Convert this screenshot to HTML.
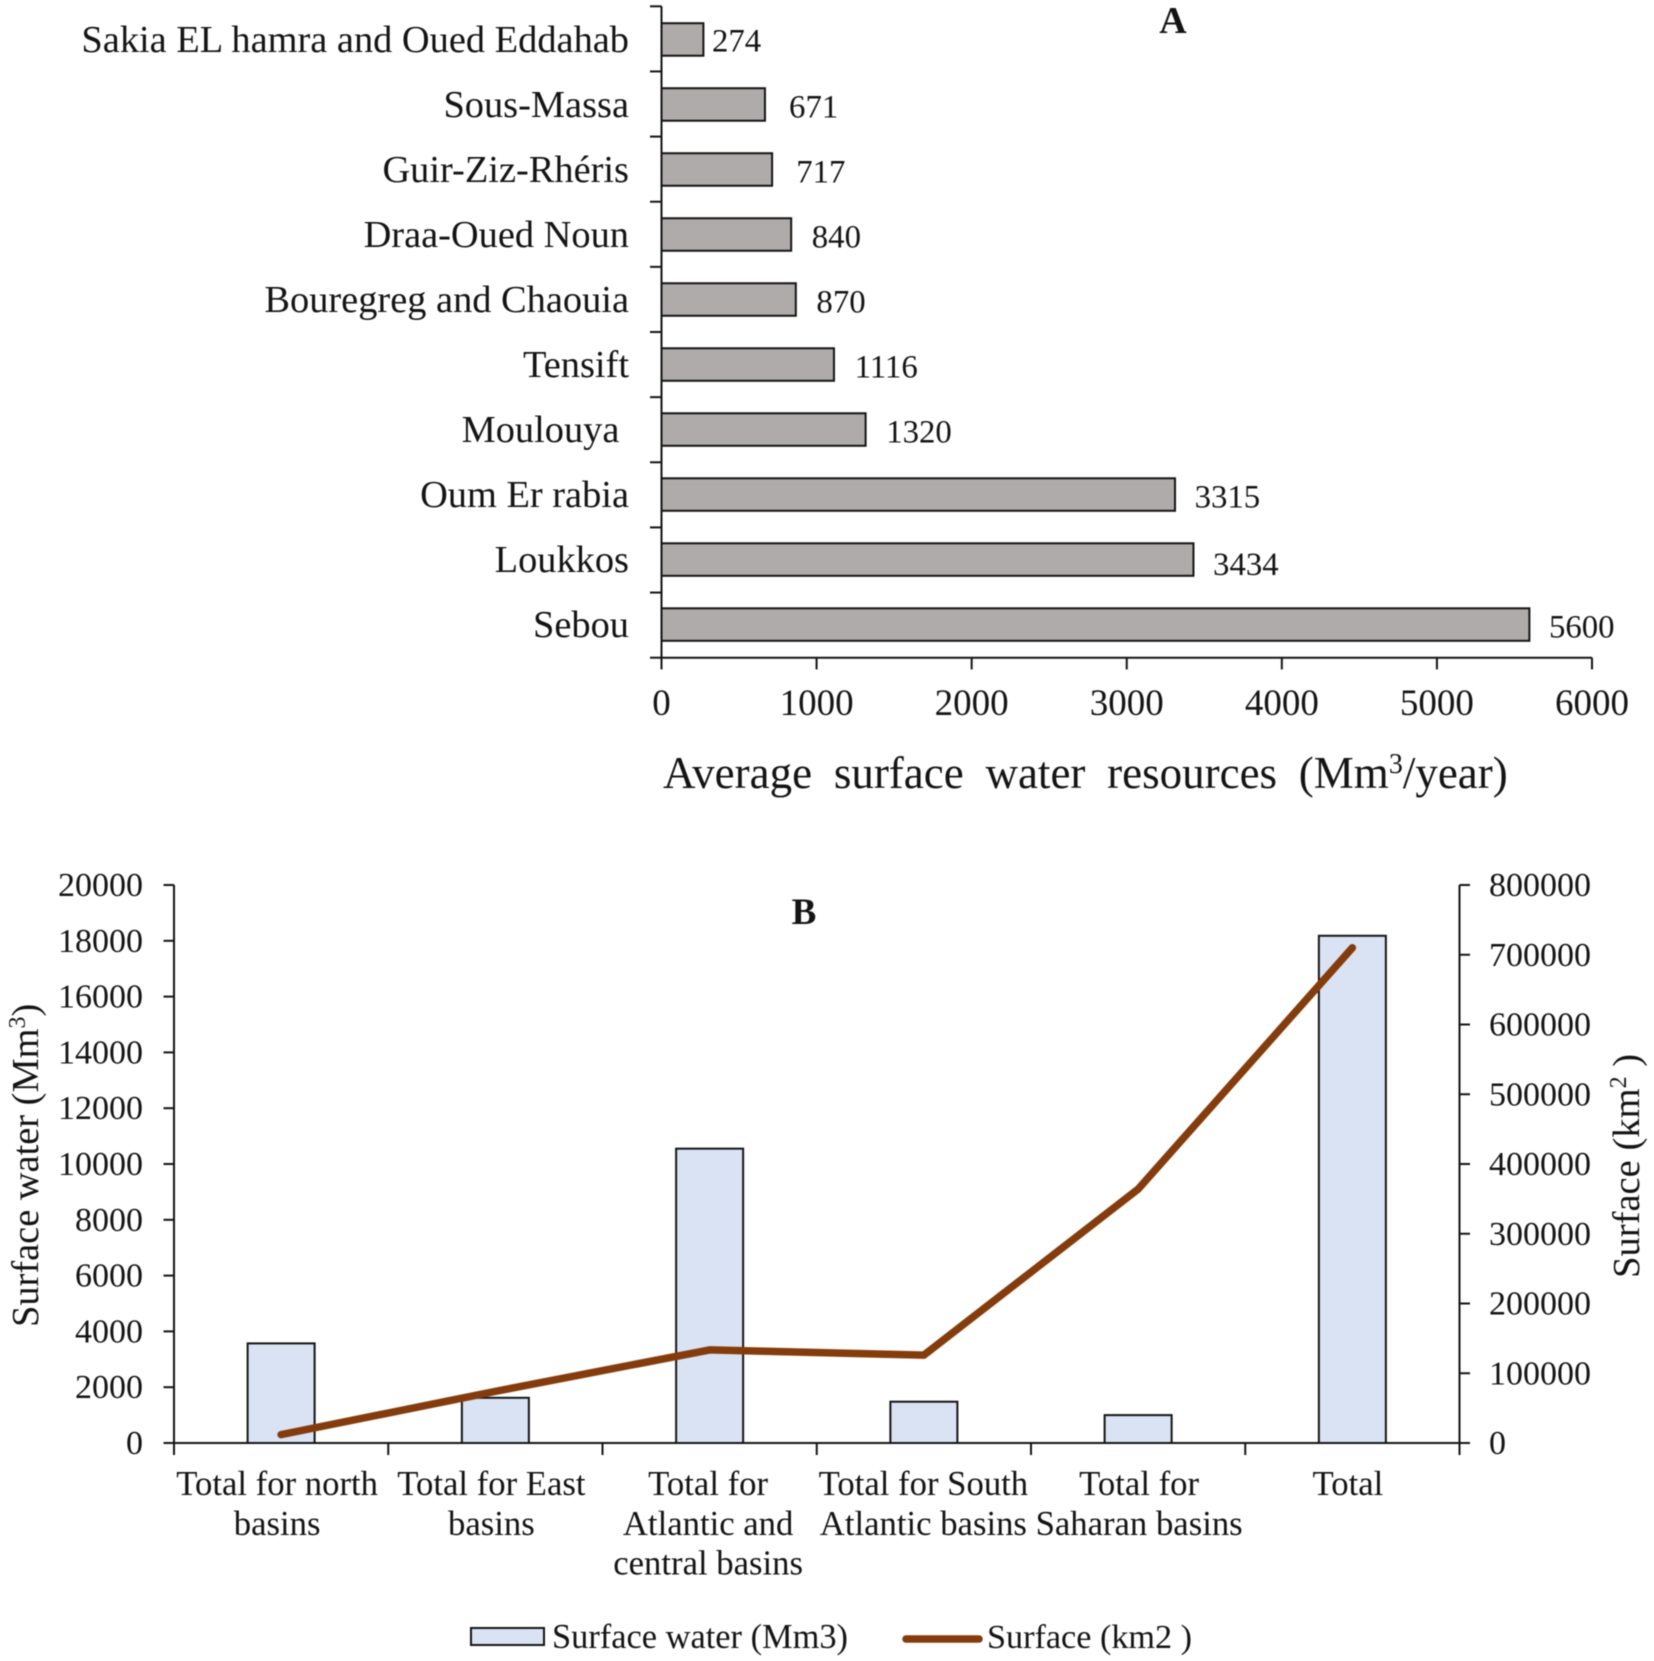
<!DOCTYPE html>
<html lang="en">
<head>
<meta charset="utf-8">
<title>Surface water resources by basin</title>
<style>
html,body{margin:0;padding:0;background:#fff;}
svg{display:block;filter:blur(0.4px);}
text{font-family:"Liberation Serif","Times New Roman",serif;fill:#141414;}
</style>
</head>
<body>
<svg id="figure" xmlns="http://www.w3.org/2000/svg" width="1654" height="1661" viewBox="0 0 1654 1661">
  <rect x="0" y="0" width="1654" height="1661" fill="#fff"/>
  <g id="chart-a"></g>
  <g id="chart-b"></g>
  <text x="1173" y="33" font-size="38" font-weight="bold" text-anchor="middle">A</text>
  <text x="663" y="788" font-size="45" style="word-spacing:10.5px">Average surface water resources (Mm<tspan dy="-15" font-size="28">3</tspan><tspan dy="15">/year)</tspan></text>
  <text x="804" y="924" font-size="37" font-weight="bold" text-anchor="middle">B</text>
  <text transform="translate(38,1327) rotate(-90)" font-size="38.4">Surface water (Mm<tspan dy="-13" font-size="24">3</tspan><tspan dy="13">)</tspan></text>
  <text transform="translate(1639,1278) rotate(-90)" font-size="38.6">Surface (km<tspan dy="-13" font-size="24">2</tspan><tspan dy="13"> )</tspan></text>
  <g>
    <rect x="471" y="1628" width="73" height="17" fill="#DAE3F3" stroke="#141414" stroke-width="2"/>
    <text x="552" y="1648" font-size="34.4">Surface water (Mm3)</text>
    <line x1="906" y1="1639" x2="979" y2="1639" stroke="#843C0C" stroke-width="7.5" stroke-linecap="round"/>
    <text x="987" y="1648" font-size="34.2">Surface (km2 )</text>
  </g>
</svg>
<script>
const aCategories = ["Sakia EL hamra and Oued Eddahab", "Sous-Massa", "Guir-Ziz-Rhéris", "Draa-Oued Noun", "Bouregreg and Chaouia", "Tensift", "Moulouya\u00a0", "Oum Er rabia", "Loukkos", "Sebou"];
const aValues = [274, 671, 717, 840, 870, 1116, 1320, 3315, 3434, 5600];
const aTicks = [0, 1000, 2000, 3000, 4000, 5000, 6000];

const bCategories = [["Total for north", "basins"], ["Total for East", "basins"], ["Total for", "Atlantic and", "central basins"], ["Total for South", "Atlantic basins"], ["Total for", "Saharan basins"], ["Total"]];
const bWater = [3570, 1620, 10550, 1480, 1000, 18180];
const bSurface = [12000, 74000, 133500, 126000, 364000, 710000];
const bLeftTicks = [0, 2000, 4000, 6000, 8000, 10000, 12000, 14000, 16000, 18000, 20000];
const bRightTicks = [0, 100000, 200000, 300000, 400000, 500000, 600000, 700000, 800000];

const INK = "#141414";
const SVG_NS = "http://www.w3.org/2000/svg";

function make(tag, attrs, parent) {
  const el = document.createElementNS(SVG_NS, tag);
  for (const k in attrs) el.setAttribute(k, attrs[k]);
  parent.appendChild(el);
  return el;
}

/* ---------- Chart A ---------- */
const aGroup = document.getElementById("chart-a");
const aLeft = 661.5, aRight = 1592, aTop = 6.3, aBottom = 657.7;
const aMax = aTicks[aTicks.length - 1];
function aX(v) { return aLeft + (v / aMax) * (aRight - aLeft); }
function aBand(i) { return aTop + (i + 0.5) * (aBottom - aTop) / aCategories.length; }
function aEdge(i) { return aTop + i * (aBottom - aTop) / aCategories.length; }
const aBarHeight = 32.5;
const aBarDrift = -0.13;

aCategories.forEach(function (name, i) {
  const bandY = aBand(i) + 0.6 + aBarDrift * i;
  const bar = make("rect", {x: aX(0), y: bandY - aBarHeight / 2, width: aX(aValues[i]) - aX(0) - 0.6, height: aBarHeight, fill: "#AFABAB", stroke: INK, "stroke-width": 2}, aGroup);
  
  

  const label = make("text", {x: 629, y: bandY + 12.4, "font-size": 38.4, "text-anchor": "end"}, aGroup);
  label.textContent = name;
  
  

  const value = make("text", {x: aX(aValues[i]) + (i === 0 ? 8 : i < 3 ? 23.5 : i > 6 ? 19 : 20), y: bandY + (i === 8 ? 15.5 : i === 0 ? 12 : 13), "font-size": 32.8}, aGroup);
  value.textContent = String(aValues[i]);
  
  
});

for (let i = 0; i <= aCategories.length; i++) {
  const tick = make("line", {x1: aLeft - 11.5, x2: aLeft, y1: aEdge(i), y2: aEdge(i), stroke: INK, "stroke-width": 2}, aGroup);
  
  
}

aTicks.forEach(function (t) {
  const tick = make("line", {x1: aX(t), x2: aX(t), y1: aBottom, y2: aBottom + 11.7, stroke: INK, "stroke-width": 2}, aGroup);
  
  

  const label = make("text", {x: aX(t), y: 715, "font-size": 37, "text-anchor": "middle"}, aGroup);
  label.textContent = String(t);
  
  
});

const aYAxis = make("line", {x1: aLeft, x2: aLeft, y1: aTop, y2: aBottom, stroke: INK, "stroke-width": 2}, aGroup);



const aXAxis = make("line", {x1: aLeft, x2: aRight, y1: aBottom, y2: aBottom, stroke: INK, "stroke-width": 2}, aGroup);



/* ---------- Chart B ---------- */
const bGroup = document.getElementById("chart-b");
const bLeft = 174, bRight = 1459.5, bTop = 885, bBottom = 1443;
const bLeftMax = bLeftTicks[bLeftTicks.length - 1];
const bRightMax = bRightTicks[bRightTicks.length - 1];
function bYLeft(v) { return bBottom - (v / bLeftMax) * (bBottom - bTop); }
function bYRight(v) { return bBottom - (v / bRightMax) * (bBottom - bTop); }
function bBandWidth() { return (bRight - bLeft) / bCategories.length; }
function bCenter(i) { return bLeft + (i + 0.5) * bBandWidth(); }
const bBarWidth = 67;
const bLabelNudge = [-4, -4, -1.5, -0.5, 1, -4.5];

bCategories.forEach(function (lines, i) {
  const bar = make("rect", {x: bCenter(i) - bBarWidth / 2, y: bYLeft(bWater[i]), width: bBarWidth, height: bYLeft(0) - bYLeft(bWater[i]), fill: "#DAE3F3", stroke: INK, "stroke-width": 2}, bGroup);
  
  

  lines.forEach(function (line, j) {
    const label = make("text", {x: bCenter(i) + bLabelNudge[i], y: 1495 + j * 39.8, "font-size": 34.7, "text-anchor": "middle"}, bGroup);
    label.textContent = line;
    
    
  });
});

for (let i = 0; i <= bCategories.length; i++) {
  const tx = bLeft + i * bBandWidth();
  const tick = make("line", {x1: tx, x2: tx, y1: bBottom, y2: bBottom + 12, stroke: INK, "stroke-width": 2}, bGroup);
  
  
}

bLeftTicks.forEach(function (t) {
  const tick = make("line", {x1: bLeft - 10.5, x2: bLeft, y1: bYLeft(t), y2: bYLeft(t), stroke: INK, "stroke-width": 2}, bGroup);
  
  

  const label = make("text", {x: 143, y: bYLeft(t) + 11, "font-size": 34, "text-anchor": "end"}, bGroup);
  label.textContent = String(t);
  
  
});

bRightTicks.forEach(function (t) {
  const tick = make("line", {x1: bRight, x2: bRight + 10.5, y1: bYRight(t), y2: bYRight(t), stroke: INK, "stroke-width": 2}, bGroup);
  
  

  const label = make("text", {x: 1489, y: bYRight(t) + 11, "font-size": 34}, bGroup);
  label.textContent = String(t);
  
  
});

const bLeftAxis = make("line", {x1: bLeft, x2: bLeft, y1: bTop, y2: bBottom, stroke: INK, "stroke-width": 2}, bGroup);



const bRightAxis = make("line", {x1: bRight, x2: bRight, y1: bTop, y2: bBottom, stroke: INK, "stroke-width": 2}, bGroup);



const bXAxis = make("line", {x1: bLeft, x2: bRight, y1: bBottom, y2: bBottom, stroke: INK, "stroke-width": 2}, bGroup);



const bPoints = bSurface.map(function (v, i) { return bCenter(i) + " " + bYRight(v); }).join(" L ");
const bLine = make("path", {d: "M " + bPoints, fill: "none", stroke: "#843C0C", "stroke-width": 7.5, "stroke-linecap": "round", "stroke-linejoin": "round"}, bGroup);


</script>
</body>
</html>
